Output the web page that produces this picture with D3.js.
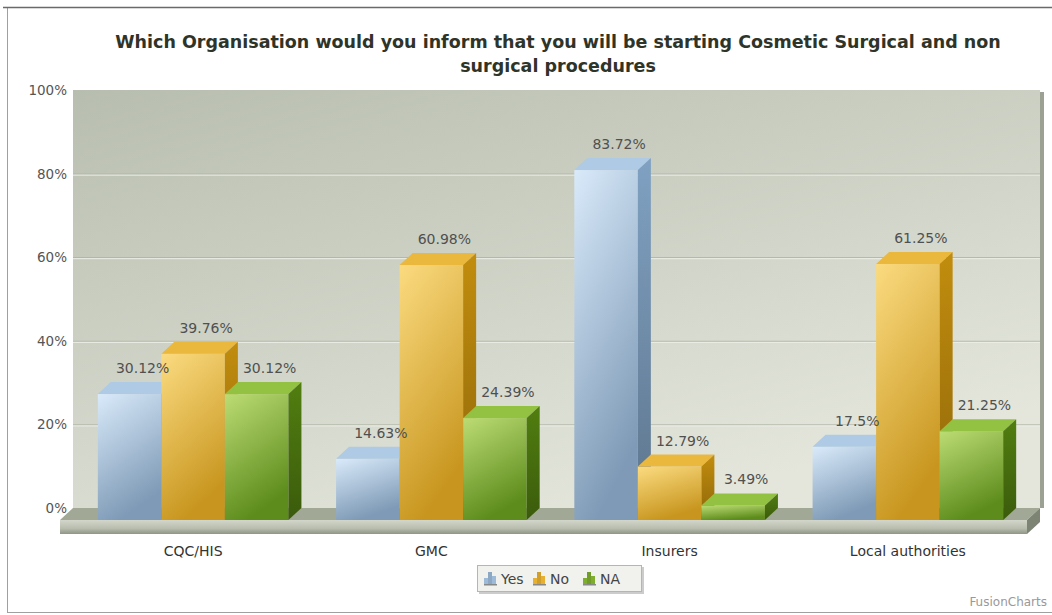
<!DOCTYPE html>
<html>
<head>
<meta charset="utf-8">
<script src="https://cdn.jsdelivr.net/npm/d3@7"></script>
<style>
  body { margin: 0; background: #fff; }
  text { font-family: "DejaVu Sans", Verdana, sans-serif; }
</style>
</head>
<body>
<svg id="chart" width="1052" height="615"></svg>
<script>
// chart data
var categories = ["CQC/HIS", "GMC", "Insurers", "Local authorities"];
var seriesNames = ["Yes", "No", "NA"];
var yesValues = [30.12, 14.63, 83.72, 17.5];
var noValues = [39.76, 60.98, 12.79, 61.25];
var naValues = [30.12, 24.39, 3.49, 21.25];
var yTicks = [0, 20, 40, 60, 80, 100];

var seriesValues = [yesValues, noValues, naValues];

// colours per series: front top, front bottom, top face, side face
var palette = {
  Yes: { light: "#d9eafa", dark: "#7e9ab6", top: "#aecae5", side: "#6f8ca8", icon: "#9dbbd8" },
  No:  { light: "#fbdb80", dark: "#c8961f", top: "#ebb83e", side: "#a87a0c", icon: "#e8b030" },
  NA:  { light: "#bcdc74", dark: "#5d8c1c", top: "#93c242", side: "#466d0e", icon: "#7fae2e" }
};

var svg = d3.select("#chart");
var defs = svg.append("defs");

// depth of the 3d look
var dx = 13, dy = 12;

var yBack = d3.scaleLinear().domain([0, 100]).range([508, 90]);
function yFront(v) { return yBack(v) + dy; }

var x0 = d3.scaleBand().domain(categories).range([74, 1027]).paddingInner(0.2).paddingOuter(0.1);
var x1 = d3.scaleBand().domain(seriesNames).range([0, x0.bandwidth()]);

// outer frame
svg.append("rect").attr("x", 7.5).attr("y", 7.5).attr("width", 1050).attr("height", 605)
  .attr("fill", "#fff").attr("stroke", "#a0a0a0").attr("stroke-width", 1);
svg.append("line").attr("x1", 3).attr("x2", 1052).attr("y1", 7.5).attr("y2", 7.5)
  .attr("stroke", "#6a6a6a").attr("stroke-width", 1.5);

// title
var title = svg.append("text").attr("text-anchor", "middle")
  .attr("font-family", "'DejaVu Sans Condensed', 'DejaVu Sans', sans-serif")
  .attr("font-weight", "bold").attr("font-size", 17.5).attr("fill", "#2f3429");
title.append("tspan").attr("x", 558).attr("y", 48)
  .text("Which Organisation would you inform that you will be starting Cosmetic Surgical and non");
title.append("tspan").attr("x", 558).attr("y", 72).text("surgical procedures");

// back wall
var wallGrad = defs.append("linearGradient").attr("id", "wall")
  .attr("x1", 0).attr("y1", 0).attr("x2", 0.6).attr("y2", 1);
wallGrad.append("stop").attr("offset", "0%").attr("stop-color", "#b8beaf");
wallGrad.append("stop").attr("offset", "100%").attr("stop-color", "#e4e6dc");

var wx0 = x0.range()[0] - 1, wx1 = x0.range()[1] + dx;
svg.append("rect").attr("x", wx0).attr("y", yBack(100)).attr("width", wx1 - wx0)
  .attr("height", yBack(0) - yBack(100)).attr("fill", "url(#wall)");
svg.append("rect").attr("x", wx1).attr("y", yBack(100) + 2).attr("width", 4)
  .attr("height", yBack(0) - yBack(100) - 2).attr("fill", "#9ca293");

// gridlines
var gridVals = yTicks.filter(function (d) { return d > 0 && d < 100; });
svg.append("g").selectAll("line").data(gridVals).join("line")
  .attr("x1", wx0).attr("x2", wx1)
  .attr("y1", function (d) { return yBack(d) + 0.5; }).attr("y2", function (d) { return yBack(d) + 0.5; })
  .attr("stroke", "#adb3a4").attr("stroke-width", 1);
svg.append("g").selectAll("line").data(gridVals).join("line")
  .attr("x1", wx0).attr("x2", wx1)
  .attr("y1", function (d) { return yBack(d) + 1.5; }).attr("y2", function (d) { return yBack(d) + 1.5; })
  .attr("stroke", "#eef0e8").attr("stroke-width", 1);

// y axis labels
svg.append("g").selectAll("text").data(yTicks).join("text")
  .attr("x", 67).attr("y", function (d) { return yBack(d) + 5; })
  .attr("text-anchor", "end").attr("font-size", 13.5).attr("fill", "#555")
  .attr("font-family", "'DejaVu Sans Condensed', 'DejaVu Sans', sans-serif")
  .text(function (d) { return d + "%"; });

// floor slab
var fx0 = x0.range()[0] - 14, fx1 = x0.range()[1];
var fy = yFront(0);
var floorGrad = defs.append("linearGradient").attr("id", "floorFront")
  .attr("x1", 0).attr("y1", 0).attr("x2", 0).attr("y2", 1);
floorGrad.append("stop").attr("offset", "0%").attr("stop-color", "#d3d7cb");
floorGrad.append("stop").attr("offset", "60%").attr("stop-color", "#b8bdae");
floorGrad.append("stop").attr("offset", "100%").attr("stop-color", "#8f9686");
svg.append("path")
  .attr("d", "M" + fx0 + "," + fy + "L" + (fx0 + dx) + "," + (fy - dy) + "L" + (fx1 + dx) + "," + (fy - dy) + "L" + fx1 + "," + fy + "Z")
  .attr("fill", "#a1a896");
svg.append("rect").attr("x", fx0).attr("y", fy).attr("width", fx1 - fx0).attr("height", 14)
  .attr("fill", "url(#floorFront)");
svg.append("path")
  .attr("d", "M" + fx1 + "," + fy + "L" + (fx1 + dx) + "," + (fy - dy) + "L" + (fx1 + dx) + "," + (fy - dy + 14) + "L" + fx1 + "," + (fy + 14) + "Z")
  .attr("fill", "#7d8474");

// gradients for bar faces
seriesNames.forEach(function (s) {
  var g = defs.append("linearGradient").attr("id", "front" + s)
    .attr("x1", 0).attr("y1", 0).attr("x2", 0.35).attr("y2", 1);
  g.append("stop").attr("offset", "0%").attr("stop-color", palette[s].light);
  g.append("stop").attr("offset", "100%").attr("stop-color", palette[s].dark);
  var t = defs.append("linearGradient").attr("id", "side" + s)
    .attr("x1", 0).attr("y1", 0).attr("x2", 0).attr("y2", 1);
  t.append("stop").attr("offset", "0%").attr("stop-color", d3.color(palette[s].side).brighter(0.4));
  t.append("stop").attr("offset", "100%").attr("stop-color", d3.color(palette[s].side).darker(0.5));
});

// bars
var bars = [];
categories.forEach(function (c, i) {
  seriesNames.forEach(function (s, j) {
    bars.push({ cat: c, series: s, value: seriesValues[j][i] });
  });
});

var barG = svg.append("g");
bars.forEach(function (d) {
  var bx = x0(d.cat) + x1(d.series);
  var bw = x1.bandwidth();
  var yt = yFront(d.value), yb = yFront(0);
  var g = barG.append("g");
  // front face
  g.append("rect").attr("x", bx).attr("y", yt).attr("width", bw).attr("height", yb - yt)
    .attr("fill", "url(#front" + d.series + ")");
  // top face
  g.append("path")
    .attr("d", "M" + bx + "," + yt + "L" + (bx + dx) + "," + (yt - dy) + "L" + (bx + bw + dx) + "," + (yt - dy) + "L" + (bx + bw) + "," + yt + "Z")
    .attr("fill", palette[d.series].top);
  // side face
  g.append("path")
    .attr("d", "M" + (bx + bw) + "," + yt + "L" + (bx + bw + dx) + "," + (yt - dy) + "L" + (bx + bw + dx) + "," + (yb - dy) + "L" + (bx + bw) + "," + yb + "Z")
    .attr("fill", "url(#side" + d.series + ")");
});

// value labels
svg.append("g").selectAll("text").data(bars).join("text")
  .attr("x", function (d) { return x0(d.cat) + x1(d.series) + x1.bandwidth() / 2 + dx; })
  .attr("y", function (d) { return yBack(d.value) - 9; })
  .attr("text-anchor", "middle").attr("font-size", 14).attr("fill", "#505050")
  .attr("font-family", "'DejaVu Sans Condensed', 'DejaVu Sans', sans-serif")
  .text(function (d) { return d.value + "%"; });

// category labels
svg.append("g").selectAll("text").data(categories).join("text")
  .attr("x", function (d) { return x0(d) + x0.bandwidth() / 2; })
  .attr("y", 556).attr("text-anchor", "middle").attr("font-size", 14).attr("fill", "#333")
  .text(function (d) { return d; });

// legend
var legend = svg.append("g");
legend.append("rect").attr("x", 479).attr("y", 567).attr("width", 165).attr("height", 27)
  .attr("fill", "#9a9a9a").attr("opacity", 0.5);
legend.append("rect").attr("x", 477.5).attr("y", 565.5).attr("width", 164).attr("height", 26)
  .attr("fill", "#f1f2ee").attr("stroke", "#b5b5b5");
var lx = [484, 533, 583];
seriesNames.forEach(function (s, i) {
  var ig = legend.append("g").attr("transform", "translate(" + lx[i] + ",572)");
  ig.append("rect").attr("x", 0).attr("y", 6).attr("width", 4).attr("height", 7).attr("fill", palette[s].icon);
  ig.append("rect").attr("x", 4).attr("y", 0).attr("width", 4).attr("height", 13).attr("fill", d3.color(palette[s].icon).darker(0.3));
  ig.append("rect").attr("x", 8).attr("y", 4).attr("width", 4).attr("height", 9).attr("fill", palette[s].icon);
  ig.append("rect").attr("x", 0).attr("y", 12).attr("width", 13).attr("height", 1.5).attr("fill", "#888");
  legend.append("text").attr("x", lx[i] + 17).attr("y", 584).attr("font-size", 14).attr("fill", "#444").text(s);
});

// credit
svg.append("text").attr("x", 1047).attr("y", 606).attr("text-anchor", "end")
  .attr("font-size", 12).attr("fill", "#999").text("FusionCharts");
</script>
</body>
</html>
